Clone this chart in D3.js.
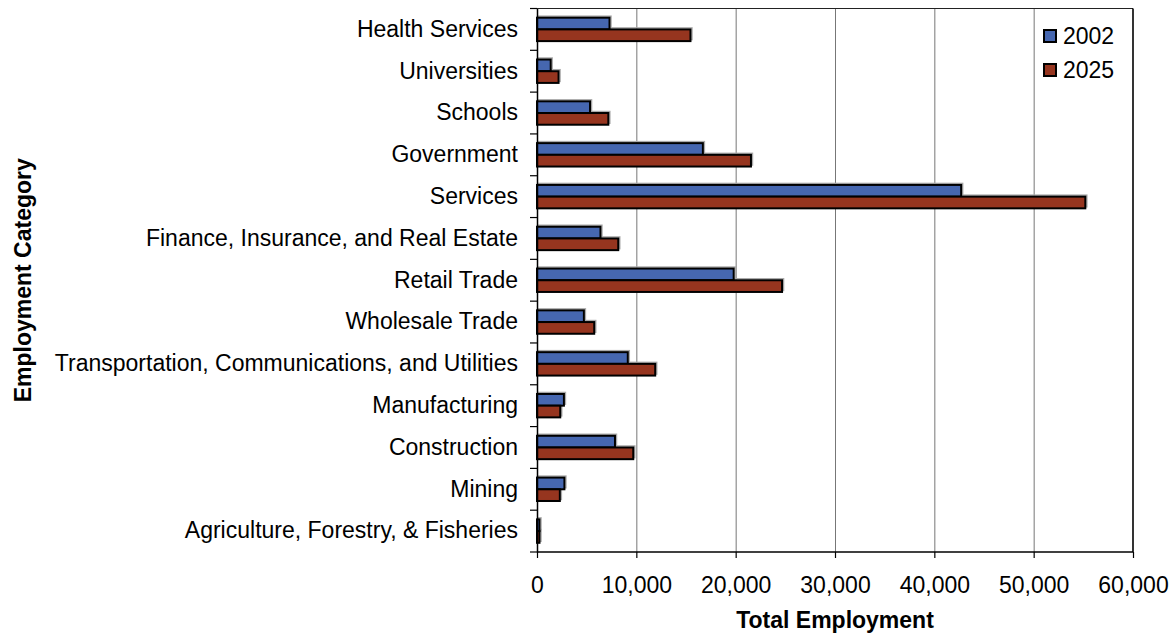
<!DOCTYPE html>
<html>
<head>
<meta charset="utf-8">
<script src="https://cdn.jsdelivr.net/npm/d3@7"></script>
<style>
  html, body { margin: 0; padding: 0; background: #fff; }
  svg { display: block; }
  text { font-family: "Liberation Sans", Arial, sans-serif; fill: #000; }
</style>
</head>
<body>
<svg id="chart" width="1170" height="637"></svg>
<script>
const categories = [
  "Health Services",
  "Universities",
  "Schools",
  "Government",
  "Services",
  "Finance, Insurance, and Real Estate",
  "Retail Trade",
  "Wholesale Trade",
  "Transportation, Communications, and Utilities",
  "Manufacturing",
  "Construction",
  "Mining",
  "Agriculture, Forestry, & Fisheries"
];
const seriesNames = ["2002", "2025"];
const values2002 = [7300, 1380, 5340, 16700, 42700, 6390, 19800, 4720, 9140, 2710, 7850, 2760, 250];
const values2025 = [15450, 2170, 7180, 21540, 55200, 8180, 24670, 5760, 11900, 2340, 9690, 2300, 250];
const xTicks = [0, 10000, 20000, 30000, 40000, 50000, 60000];
const xTitle = "Total Employment";
const yTitle = "Employment Category";
const colors = ["#4667b0", "#96351f"];

const svg = d3.select("#chart");
const mLeft = 537, mRight = 1133, mTop = 8.5, mBottom = 552;
const W = mRight - mLeft, H = mBottom - mTop;
const g = svg.append("g").attr("transform", `translate(${mLeft},${mTop})`);

const x = d3.scaleLinear().domain([0, 60000]).range([0, W]);
const y = d3.scaleBand().domain(categories).range([0, H]).padding(0);
const bw = y.bandwidth();
const inner = d3.scaleBand().domain(seriesNames).range([0.22 * bw, 0.78 * bw]).padding(0);

// gridlines
g.append("g")
  .attr("class", "grid")
  .call(d3.axisBottom(x).tickValues(xTicks.slice(1, -1)).tickSize(H).tickFormat(""))
  .call(s => s.select(".domain").remove())
  .call(s => s.selectAll("line").attr("stroke", "#777").attr("stroke-width", 1));

// plot frame top and right
g.append("line").attr("x1", 0).attr("x2", W).attr("y1", 0).attr("y2", 0)
  .attr("stroke", "#222").attr("stroke-width", 1.2);
g.append("line").attr("x1", W).attr("x2", W).attr("y1", 0).attr("y2", H)
  .attr("stroke", "#000").attr("stroke-width", 1.6);

// bars
const rows = categories.map((c, i) => ({ c, vals: [values2002[i], values2025[i]] }));
const grp = g.selectAll("g.cat").data(rows).join("g")
  .attr("class", "cat")
  .attr("transform", d => `translate(0,${y(d.c)})`);
grp.selectAll("rect.shadow").data(d => d.vals.map((v, k) => ({ v, k }))).join("rect")
  .attr("class", "shadow")
  .attr("x", 1.5)
  .attr("y", d => inner(seriesNames[d.k]) - 1.5)
  .attr("width", d => x(d.v))
  .attr("height", inner.bandwidth())
  .attr("fill", "none")
  .attr("stroke", "#aaa")
  .attr("stroke-width", 1.5);
grp.selectAll("rect.bar").data(d => d.vals.map((v, k) => ({ v, k }))).join("rect")
  .attr("class", "bar")
  .attr("x", 0)
  .attr("y", d => inner(seriesNames[d.k]))
  .attr("width", d => x(d.v))
  .attr("height", inner.bandwidth())
  .attr("fill", d => colors[d.k])
  .attr("stroke", "#000")
  .attr("stroke-width", 2);

// x axis
g.append("g")
  .attr("transform", `translate(0,${H})`)
  .call(d3.axisBottom(x).tickValues(xTicks).tickSize(6).tickPadding(19).tickFormat(d3.format(",")))
  .call(s => s.select(".domain").attr("stroke", "#000").attr("stroke-width", 1.5).attr("d", `M0,0H${W}`))
  .call(s => s.selectAll("line").attr("stroke", "#000").attr("stroke-width", 1.2))
  .call(s => s.selectAll("text").attr("font-size", 23).attr("font-family", "Liberation Sans, Arial, sans-serif").attr("fill", "#000"));

// y axis labels
g.append("g")
  .call(d3.axisLeft(y).tickSize(0).tickPadding(19))
  .call(s => s.select(".domain").attr("stroke", "#000").attr("stroke-width", 1.5))
  .call(s => s.selectAll("text").attr("font-size", 23).attr("font-family", "Liberation Sans, Arial, sans-serif").attr("fill", "#000"));

// y ticks at category boundaries
const bounds = categories.map(c => y(c)).concat([H]);
g.append("g").selectAll("line").data(bounds).join("line")
  .attr("x1", -7).attr("x2", 0)
  .attr("y1", d => d).attr("y2", d => d)
  .attr("stroke", "#000").attr("stroke-width", 1.2);

// axis titles
svg.append("text")
  .attr("x", mLeft + W / 2).attr("y", 628)
  .attr("text-anchor", "middle")
  .attr("font-size", 23).attr("font-weight", "bold")
  .text(xTitle);
svg.append("text")
  .attr("transform", `translate(31,${mTop + H / 2}) rotate(-90)`)
  .attr("text-anchor", "middle")
  .attr("font-size", 23).attr("font-weight", "bold")
  .text(yTitle);

// legend
const lg = svg.append("g").attr("transform", "translate(1044,0)");
seriesNames.forEach((s, k) => {
  const yy = 30 + k * 34;
  lg.append("rect").attr("x", 0).attr("y", yy).attr("width", 12).attr("height", 12)
    .attr("fill", colors[k]).attr("stroke", "#000").attr("stroke-width", 2);
  lg.append("text").attr("x", 19).attr("y", yy + 14)
    .attr("font-size", 23).text(s);
});
</script>
</body>
</html>
